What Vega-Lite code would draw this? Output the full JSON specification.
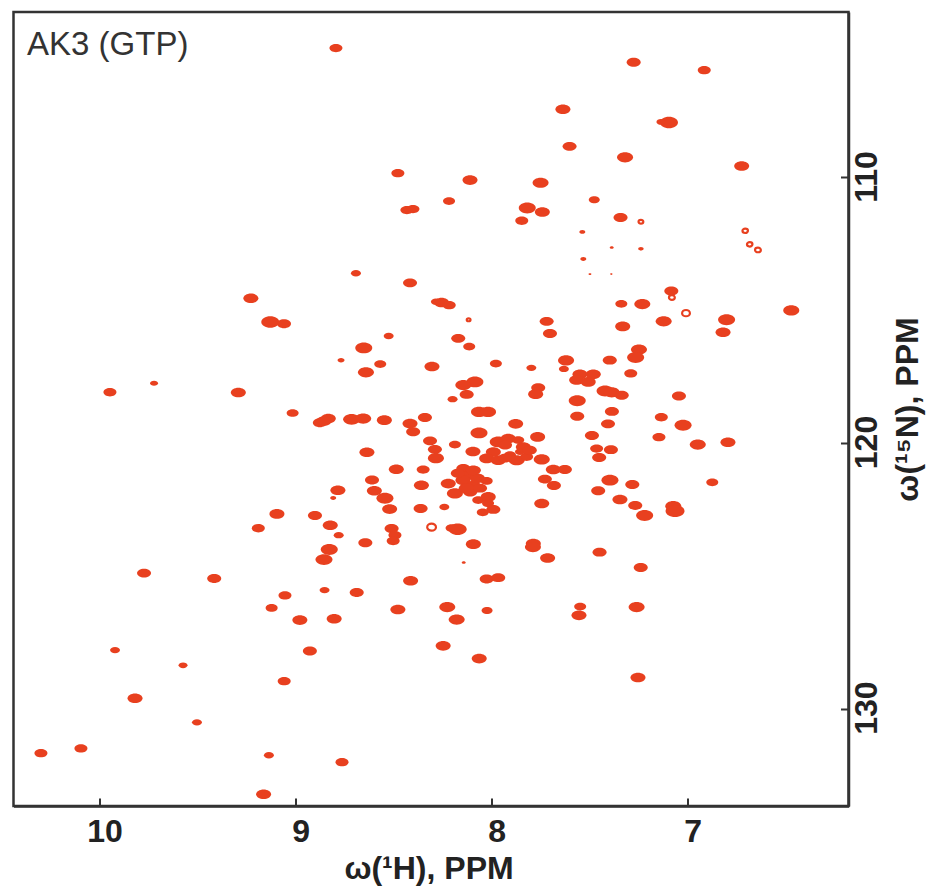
{"$schema":"https://vega.github.io/schema/vega-lite/v6.json","width":835,"height":794,"autosize":"none","padding":{"left":13.5,"top":12,"right":78,"bottom":82},"background":"white","config":{"view":{"stroke":"#333333","strokeWidth":2.5},"axis":{"grid":false,"domainColor":"#333333","domainWidth":2.5,"tickColor":"#333333","tickWidth":2,"labelColor":"#222222","titleColor":"#222222","labelFont":"Liberation Sans","titleFont":"Liberation Sans","labelFontWeight":"bold","titleFontWeight":"bold","labelFontSize":32,"titleFontSize":32}},"datasets":{"peaks":[{"H":8.794,"N":105.13,"I":169},{"H":7.275,"N":105.66,"I":196},{"H":6.915,"N":105.96,"I":169},{"H":7.636,"N":107.43,"I":225},{"H":7.095,"N":107.93,"I":324},{"H":7.136,"N":107.91,"I":81},{"H":7.602,"N":108.83,"I":196},{"H":7.319,"N":109.24,"I":256},{"H":6.724,"N":109.57,"I":225},{"H":8.478,"N":109.84,"I":169},{"H":8.11,"N":110.1,"I":225},{"H":7.75,"N":110.2,"I":256},{"H":7.476,"N":110.84,"I":121},{"H":8.217,"N":110.89,"I":144},{"H":8.432,"N":111.23,"I":169},{"H":8.401,"N":111.19,"I":169},{"H":7.818,"N":111.15,"I":289},{"H":7.741,"N":111.3,"I":225},{"H":7.846,"N":111.63,"I":169},{"H":7.342,"N":111.51,"I":196},{"H":7.537,"N":112.05,"I":36},{"H":7.387,"N":112.64,"I":16},{"H":7.238,"N":112.69,"I":30},{"H":7.532,"N":113.07,"I":36},{"H":7.498,"N":113.64,"I":9},{"H":7.389,"N":113.64,"I":6},{"H":7.083,"N":114.28,"I":196},{"H":7.338,"N":114.76,"I":144},{"H":7.231,"N":114.77,"I":256},{"H":7.122,"N":115.42,"I":256},{"H":6.801,"N":115.36,"I":289},{"H":6.819,"N":115.83,"I":225},{"H":6.471,"N":115.01,"I":256},{"H":7.331,"N":115.61,"I":225},{"H":7.248,"N":116.48,"I":256},{"H":7.265,"N":116.78,"I":289},{"H":7.397,"N":116.88,"I":196},{"H":7.62,"N":116.89,"I":256},{"H":7.631,"N":117.21,"I":100},{"H":7.29,"N":117.38,"I":169},{"H":7.549,"N":117.41,"I":225},{"H":7.481,"N":117.41,"I":225},{"H":7.566,"N":117.63,"I":225},{"H":7.507,"N":117.7,"I":225},{"H":7.421,"N":118.04,"I":289},{"H":7.387,"N":118.09,"I":256},{"H":7.336,"N":118.2,"I":196},{"H":7.044,"N":118.23,"I":196},{"H":7.563,"N":118.41,"I":289},{"H":7.386,"N":118.81,"I":196},{"H":7.563,"N":118.99,"I":196},{"H":7.134,"N":119.03,"I":169},{"H":7.023,"N":119.33,"I":289},{"H":7.406,"N":119.28,"I":196},{"H":7.146,"N":119.78,"I":169},{"H":6.948,"N":120.06,"I":256},{"H":6.794,"N":119.97,"I":225},{"H":6.874,"N":121.48,"I":144},{"H":7.073,"N":122.38,"I":256},{"H":7.064,"N":122.56,"I":361},{"H":7.219,"N":122.73,"I":289},{"H":7.267,"N":122.35,"I":196},{"H":7.345,"N":122.13,"I":225},{"H":7.282,"N":121.56,"I":196},{"H":7.396,"N":121.4,"I":289},{"H":7.456,"N":121.8,"I":196},{"H":7.488,"N":119.72,"I":196},{"H":7.464,"N":120.21,"I":169},{"H":7.391,"N":120.25,"I":196},{"H":7.451,"N":120.55,"I":196},{"H":7.719,"N":115.42,"I":196},{"H":7.702,"N":115.88,"I":196},{"H":7.797,"N":117.17,"I":100},{"H":7.762,"N":117.92,"I":196},{"H":7.775,"N":118.16,"I":225},{"H":7.978,"N":117.01,"I":144},{"H":8.255,"N":114.71,"I":225},{"H":8.216,"N":114.81,"I":169},{"H":8.284,"N":114.68,"I":100},{"H":8.17,"N":116.06,"I":196},{"H":8.114,"N":116.37,"I":144},{"H":8.304,"N":117.12,"I":225},{"H":8.416,"N":113.97,"I":196},{"H":8.085,"N":117.7,"I":289},{"H":8.144,"N":117.82,"I":256},{"H":8.127,"N":118.17,"I":196},{"H":8.199,"N":118.35,"I":100},{"H":8.064,"N":118.83,"I":256},{"H":8.018,"N":118.83,"I":256},{"H":8.34,"N":119.04,"I":196},{"H":8.416,"N":119.27,"I":225},{"H":8.4,"N":119.58,"I":196},{"H":7.877,"N":119.28,"I":225},{"H":8.064,"N":119.62,"I":289},{"H":7.765,"N":119.77,"I":225},{"H":8.314,"N":119.92,"I":196},{"H":8.289,"N":120.24,"I":196},{"H":8.284,"N":120.57,"I":256},{"H":8.187,"N":120.06,"I":144},{"H":8.095,"N":120.32,"I":225},{"H":7.966,"N":119.96,"I":289},{"H":7.915,"N":119.83,"I":225},{"H":7.864,"N":119.89,"I":144},{"H":7.991,"N":120.34,"I":225},{"H":7.838,"N":120.15,"I":225},{"H":8.025,"N":120.58,"I":225},{"H":7.966,"N":120.65,"I":225},{"H":7.906,"N":120.46,"I":144},{"H":7.872,"N":120.65,"I":256},{"H":7.821,"N":120.52,"I":169},{"H":7.744,"N":120.62,"I":256},{"H":7.932,"N":120.57,"I":196},{"H":7.855,"N":120.33,"I":100},{"H":7.931,"N":120.08,"I":196},{"H":7.805,"N":120.27,"I":196},{"H":7.685,"N":121.0,"I":225},{"H":7.626,"N":121.0,"I":196},{"H":7.728,"N":121.36,"I":196},{"H":7.682,"N":121.6,"I":196},{"H":7.744,"N":122.28,"I":225},{"H":8.144,"N":120.96,"I":196},{"H":8.119,"N":121.21,"I":196},{"H":8.146,"N":121.4,"I":225},{"H":8.221,"N":121.53,"I":225},{"H":8.093,"N":121.59,"I":196},{"H":8.072,"N":121.33,"I":225},{"H":8.093,"N":121.03,"I":225},{"H":8.109,"N":121.85,"I":196},{"H":8.172,"N":121.14,"I":196},{"H":8.068,"N":122.15,"I":144},{"H":8.025,"N":121.43,"I":144},{"H":8.187,"N":121.9,"I":256},{"H":8.127,"N":121.71,"I":256},{"H":8.059,"N":121.7,"I":196},{"H":8.017,"N":122.03,"I":225},{"H":8.018,"N":122.27,"I":144},{"H":8.045,"N":122.61,"I":144},{"H":7.991,"N":122.5,"I":196},{"H":8.241,"N":122.41,"I":100},{"H":8.204,"N":123.2,"I":144},{"H":8.173,"N":123.25,"I":324},{"H":8.093,"N":123.81,"I":225},{"H":7.787,"N":123.79,"I":225},{"H":7.789,"N":123.92,"I":256},{"H":7.714,"N":124.33,"I":225},{"H":7.449,"N":124.11,"I":196},{"H":7.239,"N":124.69,"I":196},{"H":8.142,"N":124.5,"I":16},{"H":8.025,"N":125.12,"I":196},{"H":7.966,"N":125.07,"I":196},{"H":8.226,"N":126.18,"I":256},{"H":8.178,"N":126.65,"I":256},{"H":8.023,"N":126.31,"I":121},{"H":7.548,"N":126.16,"I":144},{"H":7.554,"N":126.49,"I":225},{"H":7.26,"N":126.18,"I":256},{"H":8.247,"N":127.64,"I":225},{"H":8.063,"N":128.12,"I":225},{"H":7.253,"N":128.83,"I":225},{"H":9.228,"N":114.55,"I":225},{"H":9.129,"N":115.44,"I":324},{"H":9.059,"N":115.51,"I":196},{"H":8.525,"N":115.97,"I":100},{"H":8.652,"N":116.42,"I":289},{"H":8.768,"N":116.88,"I":49},{"H":8.568,"N":117.03,"I":144},{"H":8.641,"N":117.34,"I":256},{"H":9.292,"N":118.1,"I":225},{"H":9.015,"N":118.87,"I":144},{"H":8.876,"N":119.24,"I":196},{"H":8.833,"N":119.08,"I":225},{"H":8.855,"N":119.17,"I":225},{"H":8.714,"N":119.11,"I":289},{"H":8.655,"N":119.08,"I":256},{"H":8.547,"N":119.14,"I":225},{"H":8.636,"N":120.35,"I":225},{"H":8.486,"N":120.99,"I":225},{"H":8.61,"N":121.39,"I":196},{"H":8.784,"N":121.78,"I":225},{"H":8.598,"N":121.8,"I":225},{"H":8.808,"N":122.07,"I":36},{"H":8.544,"N":122.08,"I":289},{"H":8.358,"N":121.59,"I":225},{"H":8.349,"N":121.0,"I":169},{"H":9.095,"N":122.67,"I":225},{"H":8.901,"N":122.73,"I":196},{"H":8.52,"N":122.49,"I":225},{"H":8.362,"N":122.47,"I":196},{"H":8.823,"N":123.1,"I":225},{"H":9.19,"N":123.21,"I":169},{"H":8.78,"N":123.47,"I":100},{"H":8.51,"N":123.22,"I":196},{"H":8.493,"N":123.47,"I":169},{"H":8.502,"N":123.69,"I":169},{"H":8.644,"N":123.76,"I":196},{"H":8.828,"N":124.01,"I":289},{"H":8.855,"N":124.39,"I":289},{"H":9.415,"N":125.1,"I":196},{"H":9.773,"N":124.9,"I":196},{"H":8.413,"N":125.19,"I":225},{"H":8.852,"N":125.54,"I":100},{"H":8.688,"N":125.63,"I":196},{"H":9.054,"N":125.74,"I":169},{"H":9.122,"N":126.21,"I":144},{"H":8.478,"N":126.27,"I":225},{"H":8.803,"N":126.62,"I":225},{"H":8.978,"N":126.67,"I":225},{"H":8.927,"N":127.83,"I":196},{"H":9.058,"N":128.97,"I":169},{"H":9.921,"N":127.8,"I":100},{"H":9.819,"N":129.61,"I":225},{"H":9.574,"N":128.37,"I":81},{"H":9.503,"N":130.52,"I":100},{"H":9.136,"N":131.76,"I":100},{"H":8.763,"N":132.02,"I":169},{"H":9.163,"N":133.23,"I":225},{"H":10.299,"N":131.68,"I":169},{"H":10.095,"N":131.5,"I":169},{"H":9.947,"N":118.09,"I":169},{"H":9.722,"N":117.75,"I":64},{"H":8.692,"N":113.61,"I":100}],"rings":[{"H":7.238,"N":111.67,"I":23},{"H":6.706,"N":112.01,"I":30},{"H":6.683,"N":112.52,"I":30},{"H":6.641,"N":112.73,"I":34},{"H":7.08,"N":114.52,"I":34},{"H":7.008,"N":115.11,"I":61},{"H":8.117,"N":115.36,"I":14},{"H":8.306,"N":123.17,"I":77}],"labels":[{"H":10.37,"N":105.0,"label":"AK3 (GTP)"}]},"layer":[{"data":{"name":"peaks"},"mark":{"type":"point","filled":true,"opacity":1,"color":"#E8401F","shape":"M-1,0A1,.64 0 1,1 1,0A1,.64 0 1,1 -1,0Z"},"encoding":{"x":{"field":"H","type":"quantitative","scale":{"domain":[10.439,6.179],"nice":false,"zero":false},"axis":{"values":[10,9,8,7],"format":"d","orient":"bottom","tickSize":-8,"labelOffset":5,"labelPadding":18,"title":"ω(¹H), PPM","titlePadding":0,"titleX":415,"titleY":62,"titleBaseline":"middle"}},"y":{"field":"N","type":"quantitative","scale":{"domain":[103.77,133.67],"reverse":true,"nice":false,"zero":false},"axis":{"values":[110,120,130],"format":"d","orient":"right","tickSize":-8,"labelAngle":-90,"labelAlign":"center","labelBaseline":"bottom","labelPadding":43,"labelOffset":-1,"title":"ω(¹⁵N), PPM","titleAngle":-90,"titleX":59,"titleY":397,"titleAlign":"center","titleBaseline":"middle"}},"size":{"field":"I","type":"quantitative","legend":null,"scale":{"domain":[0,400],"range":[0,400]}}}},{"data":{"name":"rings"},"mark":{"type":"point","filled":false,"opacity":1,"stroke":"#E8401F","strokeWidth":2.2,"shape":"M-1,0A1,.8 0 1,1 1,0A1,.8 0 1,1 -1,0Z"},"encoding":{"x":{"field":"H","type":"quantitative"},"y":{"field":"N","type":"quantitative"},"size":{"field":"I","type":"quantitative","legend":null,"scale":{"domain":[0,400],"range":[0,400]}}}},{"data":{"name":"labels"},"mark":{"type":"text","align":"left","baseline":"middle","font":"Liberation Sans","fontSize":33,"color":"#333333"},"encoding":{"x":{"field":"H","type":"quantitative"},"y":{"field":"N","type":"quantitative"},"text":{"field":"label"}}}]}
